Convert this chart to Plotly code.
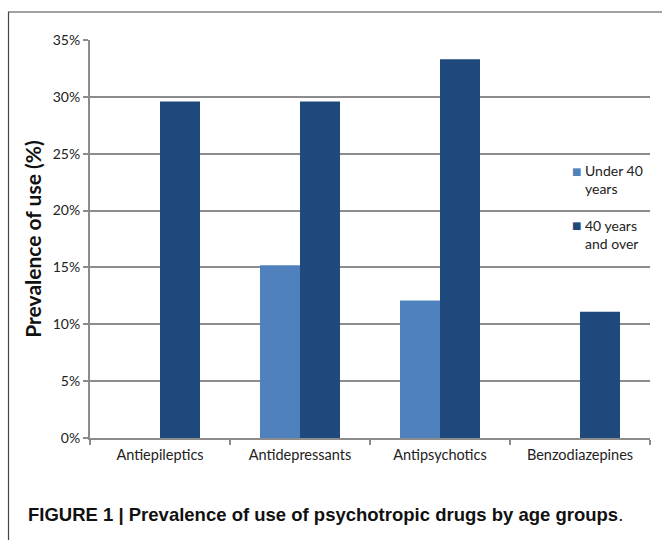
import plotly.graph_objects as go

categories = ["Antiepileptics", "Antidepressants", "Antipsychotics", "Benzodiazepines"]
under_40 = [0, 15.2, 12.1, 0]
over_40 = [29.6, 29.6, 33.3, 11.1]
series_names = ["Under 40<br>years", "40 years<br>and over"]
y_ticks = [0, 5, 10, 15, 20, 25, 30, 35]

LIGHT = "#4F81BD"
DARK = "#1F497D"
GRID = "#8C8C8C"

W, H = 662, 540
L, R, T, B = 90, 12, 40, 102
pw, ph = W - L - R, H - T - B

def px(x):
    return (x - L) / pw

def py(y):
    return (H - B - y) / ph

fig = go.Figure()
fig.add_trace(go.Bar(x=categories, y=under_40, name="Under 40 years",
                     marker=dict(color=LIGHT, line=dict(width=0)), showlegend=False))
fig.add_trace(go.Bar(x=categories, y=over_40, name="40 years and over",
                     marker=dict(color=DARK, line=dict(width=0)), showlegend=False))

FAM = "Lato, Carlito, Calibri, sans-serif"

fig.update_layout(
    width=W, height=H,
    margin=dict(l=L, r=R, t=T, b=B, pad=0),
    paper_bgcolor="white", plot_bgcolor="white",
    barmode="group", bargap=0.4286, bargroupgap=0,
    font=dict(family=FAM, color="#222"),
    xaxis=dict(
        showgrid=False, showline=True, linecolor=GRID, linewidth=2,
        ticks="outside", tickson="boundaries", ticklen=5, tickcolor=GRID, tickwidth=1.5,
        tickfont=dict(family=FAM, size=14.5, color="#222"),
        ticklabelstandoff=3,
        fixedrange=True,
    ),
    yaxis=dict(
        range=[0, 35], tickvals=y_ticks, ticktext=[f"{v}%" for v in y_ticks],
        showgrid=True, gridcolor=GRID, gridwidth=1.5, zeroline=False,
        showline=True, linecolor=GRID, linewidth=2,
        ticks="outside", ticklen=5, tickcolor=GRID, tickwidth=1.5,
        tickfont=dict(family=FAM, size=14, color="#222"),
        title=dict(text="<b>Prevalence of use (%)</b>", standoff=5,
                   font=dict(family=FAM, size=21, color="#111")),
        fixedrange=True,
    ),
)

# Legend (drawn as text keys to match the original placement)
legend_font = dict(family=FAM, size=14, color="#222")
for name, color, ycen, ymark in [(series_names[0], LIGHT, 179, 171.5), (series_names[1], DARK, 235, 225.5)]:
    fig.add_annotation(xref="paper", yref="paper", x=px(576), y=py(ymark),
                       text="■", showarrow=False, xanchor="center", yanchor="middle",
                       font=dict(family="DejaVu Sans", size=10, color=color))
    fig.add_annotation(xref="paper", yref="paper", x=px(583), y=py(ycen),
                       text=name, showarrow=False, xanchor="left", yanchor="middle",
                       align="left", font=legend_font)

# Caption
fig.add_annotation(xref="paper", yref="paper", x=px(26), y=py(514),
                   text="<b>FIGURE 1 | Prevalence of use of psychotropic drugs by age groups</b>.",
                   showarrow=False, xanchor="left", yanchor="middle",
                   font=dict(family="Liberation Sans Narrow, Arial Narrow, Liberation Sans, sans-serif",
                             size=18.5, color="#111"))

# Frame lines (left and top border)
fig.add_shape(type="line", xref="paper", yref="paper", x0=px(8.5), x1=px(8.5), y0=py(12), y1=py(540),
              line=dict(color="#444", width=1.2))
fig.add_shape(type="line", xref="paper", yref="paper", x0=px(8), x1=px(662), y0=py(12), y1=py(12),
              line=dict(color="#444", width=1.2))

fig.write_html("out.html")
